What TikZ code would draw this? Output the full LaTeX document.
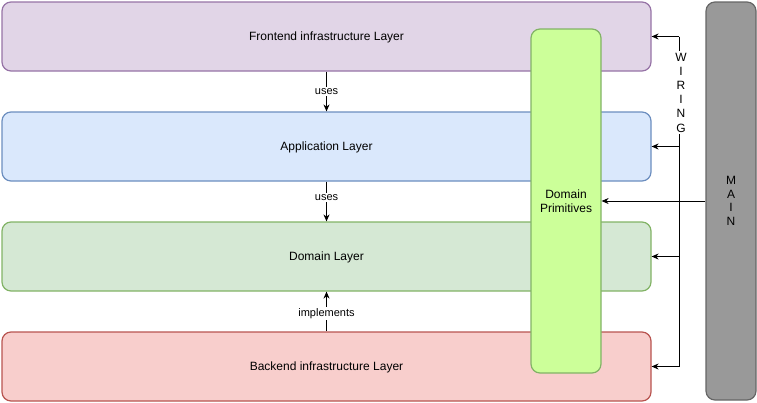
\documentclass[tikz,border=0pt]{standalone}
\usepackage{fontspec}
\setmainfont{Liberation Sans}
\usetikzlibrary{arrows.meta}

\definecolor{frontfill}{HTML}{E1D5E7}
\definecolor{frontline}{HTML}{9673A6}
\definecolor{appfill}{HTML}{DAE8FC}
\definecolor{appline}{HTML}{6C8EBF}
\definecolor{domfill}{HTML}{D5E8D4}
\definecolor{domline}{HTML}{82B366}
\definecolor{backfill}{HTML}{F8CECC}
\definecolor{backline}{HTML}{B85450}
\definecolor{primfill}{HTML}{CCFF99}
\definecolor{mainfill}{HTML}{999999}
\definecolor{mainline}{HTML}{666666}

\tikzset{
    layer/.style={draw, rounded corners=9pt, line width=1.2pt, minimum width=649pt,
        minimum height=69pt, text depth=0pt, font=\fontsize{12}{14}\selectfont},
    pillar/.style={draw, rounded corners=9pt, line width=1.2pt, align=center,
        font=\fontsize{12}{13.5}\selectfont},
    lbl/.style={fill=white, inner sep=1.5pt, font=\fontsize{11}{13}\selectfont}
}

\begin{document}
\begin{tikzpicture}[x=1pt, y=-1pt, ->, >={Stealth[length=7pt, width=6pt]}, line width=0.8pt]
                \useasboundingbox (0,0) rectangle (757,402);
                \node[layer, fill=frontfill, draw=frontline] (Front) at (326.5,36.5) {Frontend infrastructure Layer};
                \node[layer, fill=appfill, draw=appline] (App) at (326.5,146.5) {Application Layer};
                \node[layer, fill=domfill, draw=domline] (Dom) at (326.5,256.5) {Domain Layer};
                \node[layer, fill=backfill, draw=backline] (Back) at (326.5,366.5) {Backend infrastructure Layer};
                \node[pillar, fill=primfill, draw=domline, minimum width=70pt, minimum height=344pt] (Prim) at (566,201) {Domain\\Primitives};
                \node[pillar, fill=mainfill, draw=mainline, minimum width=50pt, minimum height=398pt] (Main) at (731,201) {M\\A\\I\\N};
                \coordinate (w1) at (679,36.5);
                \coordinate (w2) at (679,146.5);
                \coordinate (w3) at (679,256.5);
                \coordinate (w4) at (679,366.5);
                \path
                    (Front) edge node[lbl] {uses} (App)
                    (App) edge node[lbl, pos=0.4] {uses} (Dom)
                    (Back) edge node[lbl, pos=0.45] {implements} (Dom);
                \path
                    (w1) edge (Front.east)
                    (w2) edge (App.east)
                    (w3) edge (Dom.east)
                    (w4) edge (Back.east);
                \draw[-] (w1) -- (w4);
                \node[lbl, align=center, font=\fontsize{12}{14.2}\selectfont] (Wiring) at (681,92.5) {W\\I\\R\\I\\N\\G};
                \path (Main.west) edge (Prim.east);
            \end{tikzpicture}
\end{document}
